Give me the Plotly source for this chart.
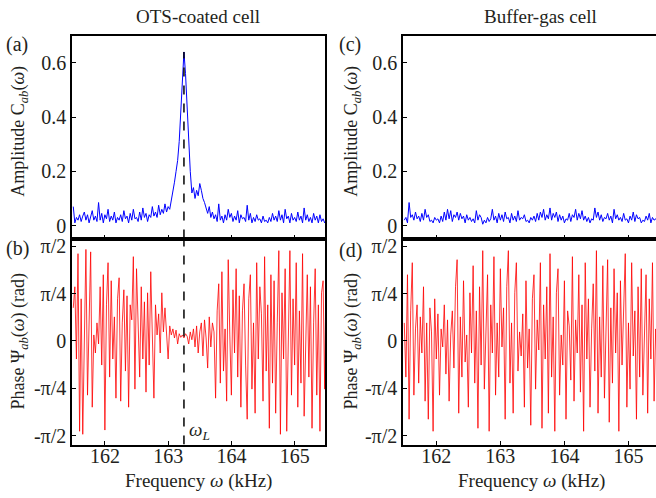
import plotly.graph_objects as go

W, H = 656, 498

f_start = 161.5
f_step = 0.025

amp_ots = [
    0.07, 0.01, 0.03, 0.02, 0.04, 0.015, 0.035, 0.05, 0.02, 0.04,
    0.01, 0.03, 0.055, 0.02, 0.035, 0.015, 0.085, 0.02, 0.045, 0.01,
    0.04, 0.025, 0.06, 0.015, 0.035, 0.02, 0.05, 0.01, 0.03, 0.02,
    0.04, 0.015, 0.055, 0.025, 0.035, 0.01, 0.045, 0.02, 0.06, 0.025,
    0.03, 0.015, 0.05, 0.02, 0.065, 0.03, 0.045, 0.015, 0.04, 0.03,
    0.07, 0.035, 0.05, 0.03, 0.075, 0.04, 0.06, 0.045, 0.08, 0.05,
    0.07, 0.06, 0.09, 0.12, 0.16, 0.20, 0.24, 0.31, 0.42, 0.53,
    0.64, 0.56, 0.43, 0.30, 0.20, 0.12, 0.14, 0.10, 0.13, 0.11,
    0.155, 0.13, 0.10, 0.085, 0.06, 0.045, 0.07, 0.03, 0.05, 0.025,
    0.04, 0.015, 0.08, 0.02, 0.035, 0.01, 0.04, 0.02, 0.06, 0.03,
    0.045, 0.015, 0.035, 0.02, 0.055, 0.01, 0.04, 0.025, 0.03, 0.015,
    0.075, 0.02, 0.045, 0.01, 0.03, 0.015, 0.04, 0.02, 0.025, 0.01,
    0.035, 0.015, 0.02, 0.01, 0.03, 0.015, 0.045, 0.02, 0.035, 0.015,
    0.055, 0.02, 0.04, 0.01, 0.06, 0.025, 0.035, 0.01, 0.045, 0.02,
    0.03, 0.015, 0.05, 0.02, 0.035, 0.01, 0.065, 0.02, 0.04, 0.015,
    0.03, 0.01, 0.045, 0.02, 0.035, 0.01, 0.04, 0.015, 0.025, 0.01,
    0.02,
]

phase_ots = [
    0.55, 0.9, -0.3, 1.45, -1.5, 0.7, -1.55, 0.2, 1.52, -0.9,
    0.5, 1.48, -1.1, 0.1, -0.2, 0.3, -0.05, 0.9, -0.4, 1.1,
    -1.48, 0.6, 1.3, -0.6, 1.0, -0.3, 0.4, -0.95, 0.7, 1.05,
    -1.0, 0.3, 0.85, -0.5, 0.75, -1.1, 0.6, 0.35, 1.4, -0.8,
    1.2, 0.2, -0.6, 0.9, -0.3, 0.65, -0.85, 0.8, -0.4, 1.15,
    0.25, -0.95, 0.6, 0.1, 0.45, -0.2, 0.8, 0.15, 0.55, 0.05,
    -0.3, 0.25, 0.1, 0.2, 0.05, 0.18, -0.05, 0.12, 0.06, 0.1,
    0.05, 0.12, 0.08, -0.05, 0.15, 0.02, 0.2, -0.1, 0.25, -0.2,
    0.15, 0.3, -0.25, 0.35, 0.05, -0.45, 0.4, -0.1, 0.3, 0.15,
    -0.95, 0.5, 0.95, -0.7, 1.15, -0.5, 0.2, -1.0, 1.35, 0.1,
    -0.9, 0.85, -0.2, 1.2, -0.6, 0.75, -1.1, 0.5, 0.95, -0.4,
    -1.3, 0.7, 1.1, -0.8, 0.3, -1.2, 1.3, -0.3, 0.9, 0.45,
    -1.0, 1.4, -0.5, 0.6, -1.45, 1.1, -0.7, 1.0, -1.2, 0.3,
    1.5, -1.55, 0.8, -0.3, 1.2, -1.5, 0.4, 1.5, -0.9, 0.7,
    -0.4, 1.3, -1.1, 0.5, -0.7, 1.45, -1.25, 0.2, 1.1, -0.6,
    0.9, -1.45, 0.3, 1.2, -0.9, 0.6, -1.5, 0.8, 1.0, -0.8,
    1.5,
]

amp_buffer = [
    0.02, 0.03, 0.01, 0.085, 0.03, 0.04, 0.02, 0.05, 0.025, 0.035,
    0.015, 0.045, 0.02, 0.06, 0.03, 0.04, 0.015, 0.02, 0.01, 0.03,
    0.02, 0.025, 0.01, 0.035, 0.015, 0.05, 0.02, 0.06, 0.025, 0.055,
    0.015, 0.04, 0.03, 0.05, 0.02, 0.045, 0.025, 0.035, 0.01, 0.04,
    0.02, 0.03, 0.015, 0.025, 0.01, 0.055, 0.02, 0.04, 0.03, 0.005,
    0.02, 0.01, 0.03, 0.015, 0.025, 0.06, 0.02, 0.035, 0.01, 0.045,
    0.02, 0.04, 0.015, 0.05, 0.025, 0.03, 0.01, 0.045, 0.02, 0.035,
    0.015, 0.055, 0.02, 0.03, 0.025, 0.04, 0.015, 0.02, 0.01, 0.03,
    0.02, 0.035, 0.015, 0.045, 0.02, 0.05, 0.03, 0.06, 0.02, 0.04,
    0.025, 0.065, 0.02, 0.045, 0.03, 0.05, 0.015, 0.04, 0.02, 0.035,
    0.01, 0.025, 0.02, 0.045, 0.015, 0.04, 0.03, 0.06, 0.02, 0.045,
    0.025, 0.055, 0.02, 0.035, 0.015, 0.03, 0.01, 0.025, 0.02, 0.065,
    0.03, 0.05, 0.02, 0.04, 0.015, 0.03, 0.025, 0.045, 0.02, 0.035,
    0.01, 0.06, 0.025, 0.04, 0.02, 0.03, 0.015, 0.045, 0.02, 0.025,
    0.01, 0.035, 0.02, 0.05, 0.015, 0.04, 0.025, 0.03, 0.01, 0.02,
    0.015, 0.035, 0.02, 0.045, 0.01, 0.03, 0.02, 0.025, 0.015, 0.03,
    0.02,
]

phase_buffer = [
    0.3, -0.6, 1.1, -1.3, 0.5, 1.3, -0.9, 0.2, 0.6, -0.7,
    0.4, -0.2, 0.9, -1.0, 0.3, -1.3, 0.55, 0.15, -1.5, 0.7,
    -0.3, 0.45, -0.9, 0.2, -0.1, 0.6, -0.55, 0.35, -1.0, 0.1,
    0.5, -0.45, 0.9, 1.35, -1.2, 0.4, -0.6, 1.0, -0.35, 0.1,
    -1.1, 0.8, -0.2, 1.25, -0.7, 0.5, -1.45, 0.9, -0.4, 1.5,
    -0.8, 0.2, 1.1, -1.5, 0.6, -0.2, 1.4, -0.9, 0.3, -0.6,
    1.2, -0.1, 0.55, -1.3, 0.9, 1.5, -0.7, 0.3, -1.2, 0.8,
    1.3, -0.5, 0.15, -0.25, 0.45, -1.1, 1.0, -0.45, 0.2, -1.4,
    0.7, 1.1, -0.8, 0.35, -0.15, 1.3, -1.45, 0.6, -0.3, 0.9,
    -1.2, 1.45, -0.6, 0.4, -1.5, 0.8, 1.2, -0.9, 0.1, -0.4,
    1.0, -1.3, 0.5, 0.25, -0.65, 1.4, -1.0, 0.35, -0.2, 1.1,
    -0.85, 0.6, -1.5, 1.3, -0.3, 0.7, -1.1, 0.2, 0.95, -0.5,
    1.5, -1.2, 0.4, -0.6, 1.25, -0.95, 0.3, 1.35, -1.35, 0.55,
    -0.7, 1.2, -0.2, 0.8, -1.5, 1.0, -0.4, 0.6, 1.45, -1.1,
    0.3, -0.8, 1.3, -0.25, 0.5, -1.3, 0.9, -0.6, 1.2, -0.9,
    0.4, 1.1, -1.2, 0.7, -0.3, 1.3, -1.0, 0.2, -0.5, 0.8,
    0.3,
]

larmor_freq = 163.25
larmor_peak = 0.64

x_ticks = [162, 163, 164, 165]
amp_ticks = [0, 0.2, 0.4, 0.6]
amp_ticktext = ["0", "0.2", "0.4", "0.6"]
phase_ticks = [-1.5708, -0.7854, 0, 0.7854, 1.5708]
phase_ticktext = ["-π/2", "-π/4", "0", "π/4", "π/2"]


def freqs(vals):
    return [round(f_start + f_step * i, 4) for i in range(len(vals))]


FONT = "Liberation Serif, Times New Roman, DejaVu Serif, serif"
TXT = "#231f20"

fig = go.Figure()
fig.add_trace(go.Scatter(x=freqs(amp_ots), y=amp_ots, mode="lines",
                         line=dict(color="#0000ff", width=1), xaxis="x", yaxis="y"))
fig.add_trace(go.Scatter(x=freqs(phase_ots), y=phase_ots, mode="lines",
                         line=dict(color="#ff0000", width=0.8), xaxis="x2", yaxis="y2"))
fig.add_trace(go.Scatter(x=freqs(amp_buffer), y=amp_buffer, mode="lines",
                         line=dict(color="#0000ff", width=1), xaxis="x3", yaxis="y3"))
fig.add_trace(go.Scatter(x=freqs(phase_buffer), y=phase_buffer, mode="lines",
                         line=dict(color="#ff0000", width=0.8), xaxis="x4", yaxis="y4"))


def px_x(p):
    return p / W


def px_y(p):
    return 1 - p / H


left_dom = [px_x(72), px_x(325)]
right_dom = [px_x(403), 1.0]
top_dom = [px_y(238), px_y(33)]
bot_dom = [px_y(446), px_y(238)]

common = dict(showline=True, linewidth=1.5, linecolor="black", ticks="inside",
              ticklen=4, tickwidth=1, tickcolor="black", showgrid=False,
              zeroline=False, tickfont=dict(family=FONT, size=20, color=TXT))

fig.update_layout(
    width=W, height=H, showlegend=False,
    margin=dict(l=0, r=0, t=0, b=0),
    font=dict(family=FONT, color=TXT),
    paper_bgcolor="white", plot_bgcolor="white",
    xaxis=dict(common, domain=left_dom, range=[161.48, 165.48], tickvals=x_ticks,
               showticklabels=False, anchor="y", mirror=True),
    yaxis=dict(common, domain=top_dom, range=[-0.048, 0.70], tickvals=amp_ticks,
               ticktext=amp_ticktext, anchor="x", mirror=True),
    xaxis2=dict(common, domain=left_dom, range=[161.48, 165.48], tickvals=x_ticks,
                anchor="y2", mirror=True, ticklabelstandoff=-7),
    yaxis2=dict(common, domain=bot_dom, range=[-1.72, 1.70], tickvals=phase_ticks,
                ticktext=phase_ticktext, anchor="x2", mirror=True),
    xaxis3=dict(common, domain=right_dom, range=[161.48, 165.43], tickvals=x_ticks,
                showticklabels=False, anchor="y3", mirror=True),
    yaxis3=dict(common, domain=top_dom, range=[-0.048, 0.70], tickvals=amp_ticks,
                ticktext=amp_ticktext, anchor="x3", mirror=False),
    xaxis4=dict(common, domain=right_dom, range=[161.48, 165.43], tickvals=x_ticks,
                anchor="y4", mirror=True, ticklabelstandoff=-7),
    yaxis4=dict(common, domain=bot_dom, range=[-1.72, 1.70], tickvals=phase_ticks,
                ticktext=phase_ticktext, anchor="x4", mirror=False),
)

# Larmor frequency dashed line
fig.add_shape(type="line", xref="x", yref="y", x0=larmor_freq, x1=larmor_freq,
              y0=-0.048, y1=larmor_peak, line=dict(color="black", width=1.5, dash="dash"))
fig.add_shape(type="line", xref="x2", yref="y2", x0=larmor_freq, x1=larmor_freq,
              y0=-1.72, y1=1.70, line=dict(color="black", width=1.5, dash="dash"))

ann = []


def add_text(text, x, y, size=18, angle=0, xanchor="center"):
    ann.append(dict(text=text, x=px_x(x), y=px_y(y), xref="paper", yref="paper",
                    showarrow=False, textangle=angle, xanchor=xanchor, yanchor="middle",
                    font=dict(family=FONT, size=size, color=TXT)))


add_text("OTS-coated cell", 198, 14, 19)
add_text("Buffer-gas cell", 540, 14, 19)
add_text("(a)", 17, 42, 20)
add_text("(b)", 17, 248, 20)
add_text("(c)", 350, 42, 20)
add_text("(d)", 350, 250, 20)
add_text("Amplitude C<sub><i>ab</i></sub>(<i>ω</i>)", 20, 130, 18, -90)
add_text("Amplitude C<sub><i>ab</i></sub>(<i>ω</i>)", 353, 130, 18, -90)
add_text("Phase Ψ<sub><i>ab</i></sub>(<i>ω</i>) (rad)", 20, 342, 18, -90)
add_text("Phase Ψ<sub><i>ab</i></sub>(<i>ω</i>) (rad)", 353, 342, 18, -90)
add_text("Frequency <i>ω</i> (kHz)", 198, 483, 19)
add_text("Frequency <i>ω</i> (kHz)", 531, 483, 19)
add_text("<i>ω</i><sub><i>L</i></sub>", 187, 432, 19, xanchor="left")

fig.update_layout(annotations=ann)

fig.write_html("out.html", config={"displayModeBar": False},
               post_script="document.body.style.margin='0';document.body.style.padding='0';")
